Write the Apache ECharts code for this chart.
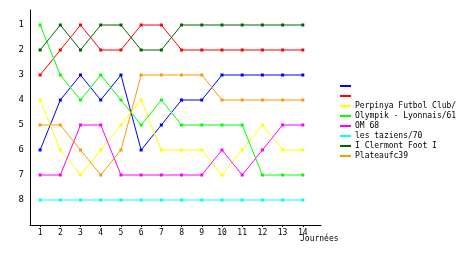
<!DOCTYPE html>
<html><head><meta charset="utf-8">
<script src="https://cdn.jsdelivr.net/npm/echarts@6/dist/echarts.min.js"></script>
<style>html,body{margin:0;padding:0;background:#fff}#c{width:460px;height:255px}</style>
</head><body><div id="c"></div>
<script>
var rounds = [1,2,3,4,5,6,7,8,9,10,11,12,13,14];
var rankTicks = [1,2,3,4,5,6,7,8];
var teamNames = [' ', '  ', 'Perpinya Futbol Club/', 'Olympik - Lyonnais/61', 'OM 68', 'les taziens/70', 'I Clermont Foot I', 'Plateaufc39'];
var teamColors = ['#0000ff', '#ff0000', '#ffff00', '#00ff00', '#ff00ff', '#00ffff', '#006400', '#ff9900'];
var blueRanks    = [6,4,3,4,3,6,5,4,4,3,3,3,3,3];
var redRanks     = [3,2,1,2,2,1,1,2,2,2,2,2,2,2];
var perpinyaRanks= [4,6,7,6,5,4,6,6,6,7,6,5,6,6];
var olympikRanks = [1,3,4,3,4,5,4,5,5,5,5,7,7,7];
var om68Ranks    = [7,7,5,5,7,7,7,7,7,6,7,6,5,5];
var tazienRanks  = [8,8,8,8,8,8,8,8,8,8,8,8,8,8];
var clermontRanks= [2,1,2,1,1,2,2,1,1,1,1,1,1,1];
var plateauRanks = [5,5,6,7,6,3,3,3,3,4,4,4,4,4];
var allRanks = [blueRanks, redRanks, perpinyaRanks, olympikRanks, om68Ranks, tazienRanks, clermontRanks, plateauRanks];

var font = 'DejaVu Sans Mono';
var series = allRanks.map(function(r, i){
  return {
    name: teamNames[i], type: 'line', data: rounds.map(function(x, j){ return [x, r[j]]; }),
    symbol: 'rect', symbolSize: 3, showSymbol: true,
    lineStyle: {width: 1, color: teamColors[i]}, itemStyle: {color: teamColors[i]},
    emphasis: {disabled: true}, animation: false
  };
});
var chart = echarts.init(document.getElementById('c'));
chart.setOption({
  animation: false,
  grid: {left: 30, top: 10, right: 139, bottom: 30, containLabel: false},
  legend: {
    orient: 'vertical', left: 340, top: 81, padding: 0, itemWidth: 11, itemHeight: 2, itemGap: 0,
    icon: 'rect', data: teamNames,
    textStyle: {fontFamily: font, fontSize: 8, color: '#000', lineHeight: 10, padding: [0,0,0,-1]}
  },
  xAxis: {
    type: 'value', min: 0.5, max: 14.9, position: 'bottom',
    name: 'Journées', nameLocation: 'end', nameGap: -21, nameMoveOverlap: false,
    nameTextStyle: {fontFamily: font, fontSize: 8, color: '#000', align: 'left', verticalAlign: 'top', padding: [10, 0, 0, 0]},
    axisLine: {onZero: false, lineStyle: {color: '#000', width: 1}},
    axisTick: {show: true, customValues: rounds, length: 2, lineStyle: {color: '#000'}},
    axisLabel: {customValues: rounds, fontFamily: font, fontSize: 8, color: '#000', margin: 4},
    splitLine: {show: false}
  },
  yAxis: {
    type: 'value', inverse: true, min: 0.4, max: 9,
    axisLine: {show: true, onZero: false, lineStyle: {color: '#000', width: 1}},
    axisTick: {show: false},
    axisLabel: {customValues: rankTicks, fontFamily: font, fontSize: 9, color: '#000', margin: 6},
    splitLine: {show: false}
  },
  series: series
});
</script></body></html>
